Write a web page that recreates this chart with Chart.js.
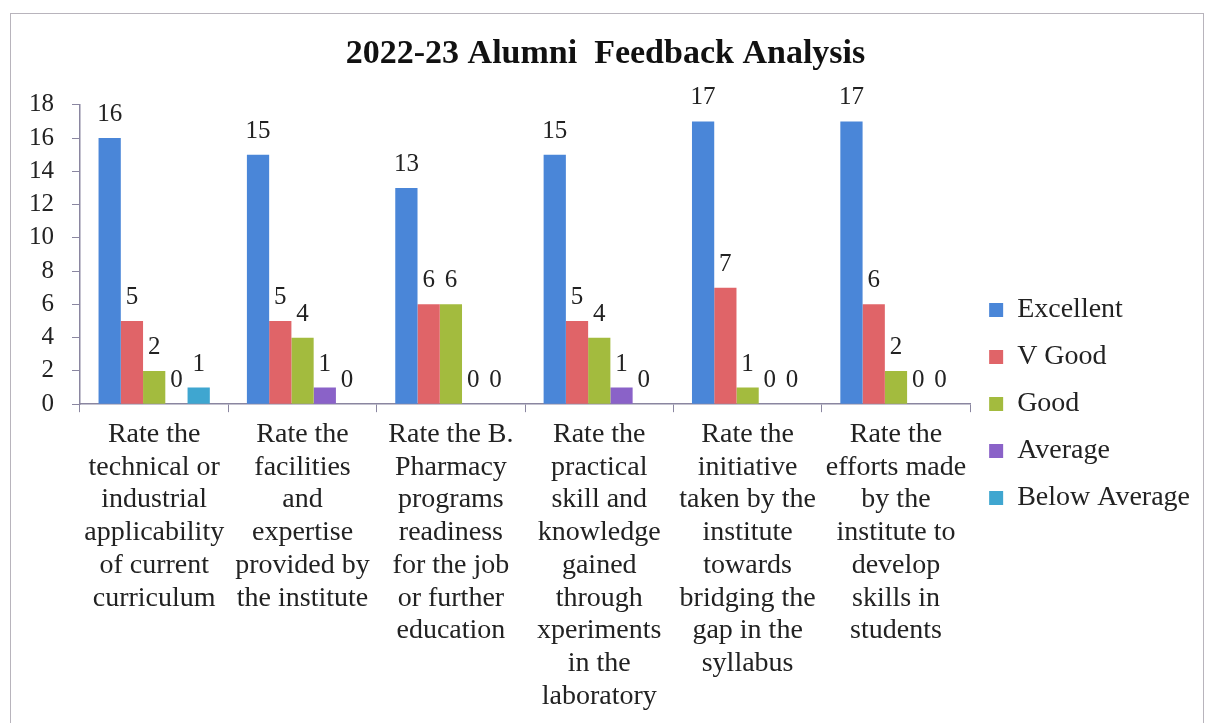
<!DOCTYPE html>
<html>
<head>
<meta charset="utf-8">
<script src="https://cdn.jsdelivr.net/npm/chart.js@4/dist/chart.umd.min.js"></script>
<style>
  html, body { margin: 0; padding: 0; background: #fff; }
  #wrap { position: relative; width: 1210px; height: 723px; }
  #frame { position: absolute; left: 10px; top: 13px; width: 1194px; height: 720px;
           border: 1.5px solid #b8b4bc; box-sizing: border-box; pointer-events: none; }
</style>
</head>
<body>
<div id="wrap">
  <canvas id="chart" width="1210" height="723"></canvas>
  <div id="frame"></div>
</div>
<script>
// chart text + values
const chartTitle = '2022-23 Alumni  Feedback Analysis';
const categories = [
  ['Rate the', 'technical or', 'industrial', 'applicability', 'of current', 'curriculum'],
  ['Rate the', 'facilities', 'and', 'expertise', 'provided by', 'the institute'],
  ['Rate the B.', 'Pharmacy', 'programs', 'readiness', 'for the job', 'or further', 'education'],
  ['Rate the', 'practical', 'skill and', 'knowledge', 'gained', 'through', 'xperiments', 'in the', 'laboratory'],
  ['Rate the', 'initiative', 'taken by the', 'institute', 'towards', 'bridging the', 'gap in the', 'syllabus'],
  ['Rate the', 'efforts made', 'by the', 'institute to', 'develop', 'skills in', 'students']
];
const seriesNames = ['Excellent', 'V Good', 'Good', 'Average', 'Below Average'];
const excellent    = [16, 15, 13, 15, 17, 17];
const vGood        = [5, 5, 6, 5, 7, 6];
const good         = [2, 4, 6, 4, 1, 2];
const average      = [0, 1, 0, 1, 0, 0];
const belowAverage = [1, 0, 0, 0, 0, 0];
const yTicks = [0, 2, 4, 6, 8, 10, 12, 14, 16, 18];

const colors = ['#4a86d8', '#e06468', '#a3bb3e', '#8a62c8', '#3fa6d0'];
const serif = 'Liberation Serif';
const axisColor = '#8a86a0';

// draws the value above each bar (zeros too)
const valueLabels = {
  id: 'valueLabels',
  afterDatasetsDraw(chart) {
    const ctx = chart.ctx;
    ctx.save();
    ctx.font = '25px "' + serif + '"';
    ctx.fillStyle = '#222';
    ctx.textAlign = 'center';
    ctx.textBaseline = 'alphabetic';
    chart.data.datasets.forEach((ds, i) => {
      const meta = chart.getDatasetMeta(i);
      meta.data.forEach((bar, j) => {
        ctx.fillText(String(ds.data[j]), bar.x, bar.y - 17);
      });
    });
    ctx.restore();
  }
};

const allSeries = [excellent, vGood, good, average, belowAverage];

new Chart(document.getElementById('chart'), {
  type: 'bar',
  data: {
    labels: categories,
    datasets: allSeries.map((vals, i) => ({
      label: seriesNames[i],
      data: vals,
      backgroundColor: colors[i],
      borderWidth: 0,
      barPercentage: 1,
      categoryPercentage: 0.75
    }))
  },
  options: {
    responsive: false,
    animation: false,
    layout: { padding: { left: 11, right: 10, top: 34, bottom: 4 } },
    plugins: {
      title: {
        display: true,
        text: chartTitle,
        color: '#111',
        font: { family: serif, size: 34, weight: 'bold' },
        padding: { top: 0, bottom: 30 }
      },
      legend: {
        position: 'right',
        title: { display: true, text: ' ', padding: 0, font: { size: 46 } },
        labels: {
          color: '#222',
          font: { family: serif, size: 28 },
          boxWidth: 14,
          boxHeight: 14,
          padding: 19
        }
      },
      tooltip: { enabled: false }
    },
    scales: {
      x: {
        grid: { drawOnChartArea: false, drawTicks: true, tickLength: 8, color: axisColor },
        border: { display: true, color: axisColor, width: 1.5 },
        ticks: {
          autoSkip: false, maxRotation: 0, minRotation: 0,
          color: '#222', padding: 6,
          font: { family: serif, size: 28, lineHeight: 1.17 }
        }
      },
      y: {
        min: 0, max: 18,
        afterBuildTicks(axis) { axis.ticks = yTicks.map(v => ({ value: v })); },
        grid: { drawOnChartArea: false, drawTicks: true, tickLength: 8, color: axisColor },
        border: { display: true, color: axisColor, width: 1.5 },
        ticks: { color: '#222', padding: 18, font: { family: serif, size: 25 } }
      }
    }
  },
  plugins: [valueLabels]
});
</script>
</body>
</html>
